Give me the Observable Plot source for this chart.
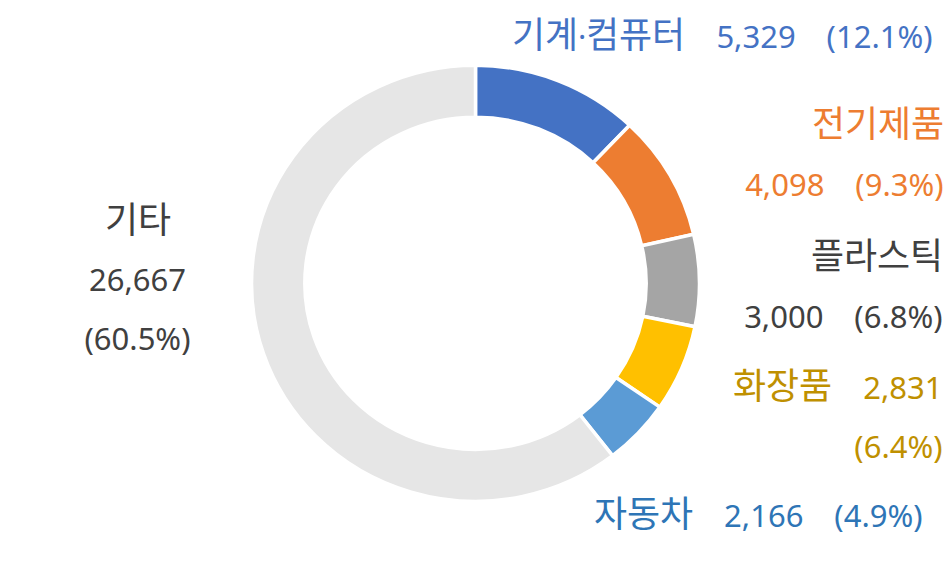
<!DOCTYPE html>
<html><head><meta charset="utf-8">
<script src="https://cdn.jsdelivr.net/npm/d3@7"></script>
<script src="https://cdn.jsdelivr.net/npm/@observablehq/plot@0.6"></script>
<style>
html,body{margin:0;padding:0;background:#fff}
@font-face {
  font-family: "HangulBig";
  src: local("Noto Sans CJK KR Regular"), local("NotoSansCJKkr-Regular"), local("Noto Sans CJK KR");
  size-adjust: 116%;
  unicode-range: U+AC00-D7AF, U+1100-11FF, U+3130-318F;
}
</style>
</head><body><div id="chart"></div>
<script>
// ---- data ----
const categories = ["기계·컴퓨터", "전기제품", "플라스틱", "화장품", "자동차", "기타"];
const values = [5329, 4098, 3000, 2831, 2166, 26667];
const percents = ["12.1%", "9.3%", "6.8%", "6.4%", "4.9%", "60.5%"];
const sliceColors = ["#4472C4", "#ED7D31", "#A5A5A5", "#FFC000", "#5B9BD5", "#E6E6E6"];
const labelColors = ["#4472C4", "#ED7D31", "#404040", "#BF9000", "#2E75B6", "#404040"];

// ---- layout (not data) ----
const W = 950, H = 567;
const ring = {cx: 475.5, cy: 283.3, rx: 224, ry: 218, inner: 0.762, gap: 3.5};
// each label: anchor point, alignment, and how name/value/percent break into lines
const labelLayout = [
  {x: 932, y: 29,  anchor: "end",    lines: [[0, 1, 2]]},
  {x: 943, y: 147, anchor: "end",    lines: [[0], [1, 2]]},
  {x: 942, y: 279, anchor: "end",    lines: [[0], [1, 2]]},
  {x: 942, y: 409, anchor: "end",    lines: [[0, 1], [2]]},
  {x: 922, y: 508, anchor: "end",    lines: [[0, 1, 2]]},
  {x: 137, y: 272, anchor: "middle", lines: [[0], [1], [2]]}
];

const fmt = d3.format(",");
const rows = categories.map((c, i) => ({name: c, value: values[i], pct: percents[i], color: sliceColors[i], labelColor: labelColors[i]}));
const labels = rows.map((r, i) => {
  const parts = [r.name, fmt(r.value), `(${r.pct})`];
  const L = labelLayout[i];
  return {x: L.x, y: L.y, anchor: L.anchor, color: r.labelColor,
          text: L.lines.map(line => line.map(k => parts[k]).join("\u2003")).join("\n")};
});

const pie = d3.pie().sort(null).startAngle(0).endAngle(2 * Math.PI).value(d => d.value)(rows);
const arcGen = d3.arc().innerRadius(ring.inner).outerRadius(1);

function donutMark(index, scales) {
  const x0 = scales.x(ring.cx), y0 = scales.y(ring.cy);
  const sx = scales.x(ring.cx + ring.rx) - x0, sy = scales.y(ring.cy + ring.ry) - y0;
  const g = d3.create("svg:g").attr("transform", `translate(${x0},${y0}) scale(${sx},${sy})`);
  g.selectAll("path").data(pie).join("path")
    .attr("d", arcGen)
    .attr("fill", d => d.data.color)
    .attr("stroke", "#fff")
    .attr("stroke-width", ring.gap)
    .attr("stroke-linejoin", "miter")
    .attr("vector-effect", "non-scaling-stroke");
  return g.node();
}

const textOpts = {x: "x", y: "y", text: "text", fill: "color", fontSize: 31, lineHeight: 1.89, lineAnchor: "middle"};

const chart = Plot.plot({
  width: W, height: H,
  margin: 0,
  x: {domain: [0, W], range: [0, W], axis: null},
  y: {domain: [0, H], range: [0, H], axis: null},
  color: {type: "identity"},
  style: {fontFamily: "HangulBig, 'Noto Sans', 'Noto Sans CJK KR', sans-serif", background: "#fff"},
  marks: [
    donutMark,
    Plot.text(labels.filter(d => d.anchor === "end"), {...textOpts, textAnchor: "end"}),
    Plot.text(labels.filter(d => d.anchor === "middle"), {...textOpts, textAnchor: "middle"})
  ]
});
document.getElementById("chart").appendChild(chart);
</script>
</body></html>
